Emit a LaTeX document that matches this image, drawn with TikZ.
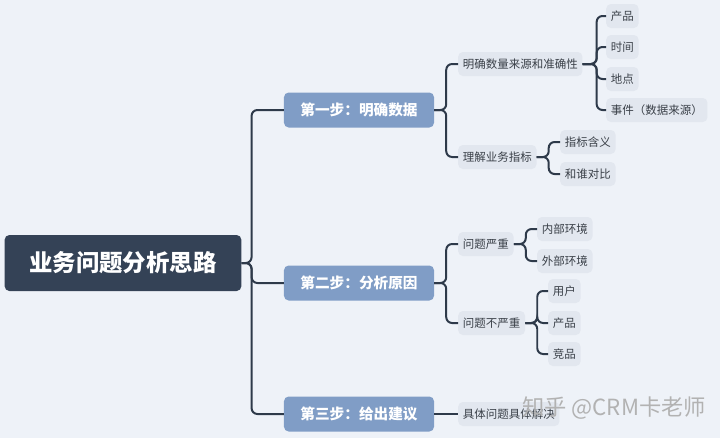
\documentclass[tikz,border=0pt]{standalone}
\usepackage{fontspec}
\setmainfont{Noto Sans CJK SC}
\definecolor{bgcol}{HTML}{EEF2F8}
\definecolor{rootcol}{HTML}{344256}
\definecolor{stepcol}{HTML}{809DC6}
\definecolor{leafcol}{HTML}{E2E7EF}
\definecolor{linecol}{HTML}{2E3A4A}
\definecolor{txtcol}{HTML}{3A4048}
\tikzset{
  rootbox/.style = {fill=rootcol, text=white, rounded corners=4pt, font=\bfseries\fontsize{20}{24}\selectfont, minimum width=7.1cm, minimum height=1.68cm},
  stepbox/.style = {fill=stepcol, text=white, rounded corners=4pt, font=\bfseries\fontsize{12.5}{15}\selectfont, minimum width=4.5cm, minimum height=1.05cm},
  leafbox/.style = {fill=leafcol, text=txtcol, rounded corners=4pt, font=\fontsize{9.8}{12}\selectfont, minimum height=0.72cm, inner xsep=4pt},
  branch/.style = {draw=linecol, line width=1.7pt, rounded corners=5pt}
}
\begin{document}
\begin{tikzpicture}[x=0.03cm, y=-0.03cm]
\fill[bgcol] (0,0) rectangle (720,438);
\useasboundingbox (0,0) rectangle (720,438);

% root and steps
\node[rootbox] (root) at (123,263) {业务问题分析思路};
\node[stepbox] (s1) at (359,110) {第一步：明确数据};
\node[stepbox] (s2) at (359,283) {第二步：分析原因};
\node[stepbox] (s3) at (359,414) {第三步：给出建议};

% step one
\node[leafbox, anchor = west] (a1) at (458,64) {明确数量来源和准确性};
\node[leafbox, anchor = west] (a2) at (458,157) {理解业务指标};
\node[leafbox, anchor = west] (a11) at (606,16) {产品};
\node[leafbox, anchor = west] (a12) at (606,47) {时间};
\node[leafbox, anchor = west] (a13) at (606,79) {地点};
\node[leafbox, anchor = west] (a14) at (606,110) {事件（数据来源）};
\node[leafbox, anchor = west] (a21) at (560,142) {指标含义};
\node[leafbox, anchor = west] (a22) at (560,174) {和谁对比};

% step two
\node[leafbox, anchor = west] (b1) at (458,244) {问题严重};
\node[leafbox, anchor = west] (b2) at (458,323) {问题不严重};
\node[leafbox, anchor = west] (b11) at (537,229) {内部环境};
\node[leafbox, anchor = west] (b12) at (537,261) {外部环境};
\node[leafbox, anchor = west] (b21) at (548,291) {用户};
\node[leafbox, anchor = west] (b22) at (548,323) {产品};
\node[leafbox, anchor = west] (b23) at (548,354) {竞品};

% step three
\node[leafbox, anchor = west] (c1) at (458,414) {具体问题具体解决};

% connectors
\foreach \s in {s1,s2,s3} \draw[branch] (root.east) -- ++(10,0) |- (\s.west);
\foreach \a in {a1,a2} \draw[branch] (s1.east) -- ++(12,0) |- (\a.west);
\foreach \a in {a11,a12,a13,a14} \draw[branch] (a1.east) -- ++(14,0) |- (\a.west);
\foreach \a in {a21,a22} \draw[branch] (a2.east) -- ++(12,0) |- (\a.west);
\foreach \b in {b1,b2} \draw[branch] (s2.east) -- ++(12,0) |- (\b.west);
\foreach \b in {b11,b12} \draw[branch] (b1.east) -- ++(12,0) |- (\b.west);
\foreach \b in {b21,b22,b23} \draw[branch] (b2.east) -- ++(12,0) |- (\b.west);
\draw[branch] (s3.east) -- (c1.west);

% watermark
\node[text=gray!60, font=\fontsize{19}{22}\selectfont, anchor = west] (mark) at (518,408) {知乎 @CRM卡老师};
\end{tikzpicture}
\end{document}
